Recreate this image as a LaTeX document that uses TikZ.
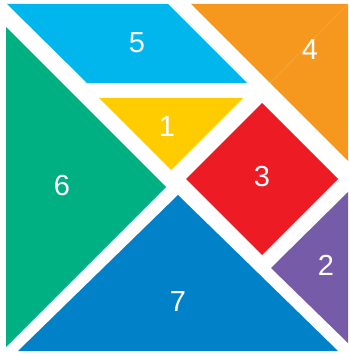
\documentclass[tikz,border=0pt]{standalone}
\usepackage{fontspec}
\setsansfont{Liberation Sans}
\usetikzlibrary{positioning}
\definecolor{tancyan}{RGB}{0, 182, 237}
\definecolor{tanorange}{RGB}{247, 152, 30}
\definecolor{tanyellow}{RGB}{255, 204, 0}
\definecolor{tanred}{RGB}{237, 28, 36}
\definecolor{tanpurple}{RGB}{118, 92, 168}
\definecolor{tanblue}{RGB}{0, 129, 200}
\definecolor{tangreen}{RGB}{0, 175, 130}
\begin{document}
\begin{tikzpicture}[
            x=1pt, y=-1pt,
            num/.style={text=white, inner sep=0pt,
                        font=\sffamily\fontsize{29}{29}\selectfont},
          ]
          \useasboundingbox (0,0) rectangle (348,358);
          \fill[white] (0,0) rectangle (348,358);
          % pieces
          \fill[tancyan] (7,4) -- (168,4) -- (247,83) -- (87,83) -- cycle;
          \fill[tanorange] (191,4) -- (348,4) -- (348,161) -- cycle;
          \draw[tanorange!80!white, line width=0.4pt] (270,83) -- (348,4);
          \fill[tanyellow] (99,98) -- (243,98) -- (171,170) -- cycle;
          \fill[tanred] (262,103) -- (338,179) -- (262,255) -- (186,179) -- cycle;
          \fill[tanpurple] (348,192) -- (348,343) -- (271,268) -- cycle;
          \fill[tangreen] (6,27) -- (166,187) -- (6,347) -- cycle;
          \fill[tanblue] (178,195) -- (338,351) -- (18,351) -- cycle;
          % labels
          \node[num] (n5) at (137,43) {5};
          \node[num] (n4) at (310,50) {4};
          \node[num] (n1) at (167,127) {1};
          \node[num] (n3) at (262,177) {3};
          \node[num] (n6) at (62,186) {6};
          \node[num] (n2) at (326,265) {2};
          \node[num] (n7) at (178,302) {7};
        \end{tikzpicture}
\end{document}
